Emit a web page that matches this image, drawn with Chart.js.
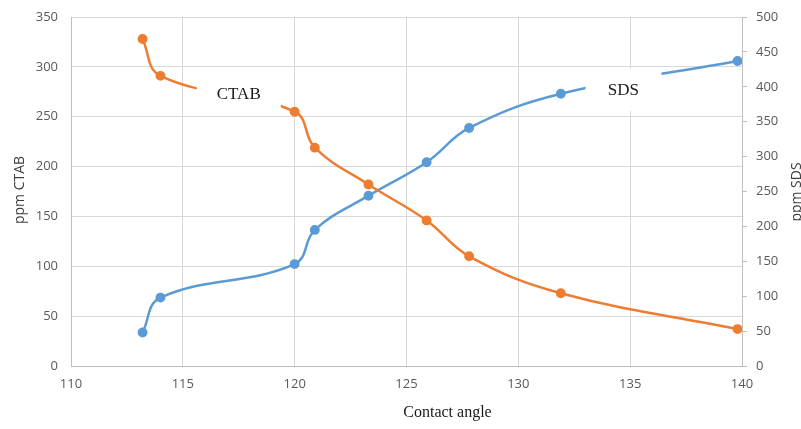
<!DOCTYPE html>
<html>
<head>
<meta charset="utf-8">
<script src="https://cdn.jsdelivr.net/npm/chart.js@4/dist/chart.umd.min.js"></script>
<style>
html,body{margin:0;padding:0;background:#fff;}
#wrap{width:801px;height:429px;position:relative;}
</style>
</head>
<body>
<div id="wrap"><canvas id="c" width="801" height="429"></canvas></div>
<script>
// Data
const contactAngle = [113.2, 114.0, 120.0, 120.9, 123.3, 125.9, 127.8, 131.9, 139.8];
const ctabPpm = [328, 291, 255, 219, 182, 146, 110, 73, 37];
const sdsPpm = [48, 98, 146, 195, 244, 292, 341, 390, 437];
const xTitle = "Contact angle";
const leftTitle = "ppm CTAB";
const rightTitle = "ppm SDS";
const seriesLabels = ["CTAB", "SDS"];
// label anchor positions (data units: x, left-axis y)
const labelAnchors = [[117.5, 273], [134.7, 277]];

const toPts = (ys) => contactAngle.map((x, i) => ({x: x, y: ys[i]}));

const overlay = {
  id: 'overlay',
  afterDatasetsDraw(chart) {
    const ctx = chart.ctx;
    const xs = chart.scales.x, ys = chart.scales.y;
    const boxes = [[42, 22], [38, 21]];
    ctx.save();
    labelAnchors.forEach((a, i) => {
      const cx = xs.getPixelForValue(a[0]);
      const cy = ys.getPixelForValue(a[1]);
      ctx.fillStyle = '#ffffff';
      ctx.fillRect(cx - boxes[i][0], cy - boxes[i][1], boxes[i][0] * 2, boxes[i][1] * 2);
      ctx.fillStyle = '#1a1a1a';
      ctx.font = '17px "Liberation Serif", "Times New Roman", serif';
      ctx.textAlign = 'center';
      ctx.textBaseline = 'middle';
      ctx.fillText(seriesLabels[i], cx, cy + 1);
    });
    ctx.restore();
  },
  afterDraw(chart) {
    const ctx = chart.ctx;
    const ca = chart.chartArea;
    const drawRot = (txt, x, y) => {
      ctx.save();
      ctx.fillStyle = '#404040';
      ctx.font = '14px "Open Sans", sans-serif';
      ctx.textAlign = 'center';
      ctx.textBaseline = 'middle';
      ctx.translate(x, y);
      ctx.rotate(-Math.PI / 2);
      ctx.fillText(txt, 0, 0);
      ctx.restore();
    };
    drawRot(leftTitle, 20, 190);
    drawRot(rightTitle, 797, 192);
    ctx.save();
    ctx.fillStyle = '#1a1a1a';
    ctx.font = '16px "Liberation Serif", "Times New Roman", serif';
    ctx.textAlign = 'center';
    ctx.textBaseline = 'middle';
    ctx.fillText(xTitle, (ca.left + ca.right) / 2 + 41, 413);
    ctx.restore();
  }
};

const tickFont = {family: '"Open Sans", sans-serif', size: 13};
const noVPad = (s) => { s.paddingTop = 0; s.paddingBottom = 0; };

new Chart(document.getElementById('c'), {
  type: 'line',
  data: {
    datasets: [
      {
        label: seriesLabels[0],
        data: toPts(ctabPpm),
        yAxisID: 'y',
        borderColor: '#ED7D31',
        backgroundColor: '#ED7D31',
        borderWidth: 2.5,
        pointRadius: 3.7,
        pointHoverRadius: 3.7,
        tension: 0.4,
        fill: false
      },
      {
        label: seriesLabels[1],
        data: toPts(sdsPpm),
        yAxisID: 'y1',
        borderColor: '#5B9BD5',
        backgroundColor: '#5B9BD5',
        borderWidth: 2.5,
        pointRadius: 3.7,
        pointHoverRadius: 3.7,
        tension: 0.4,
        fill: false
      }
    ]
  },
  options: {
    responsive: false,
    animation: false,
    devicePixelRatio: 1,
    layout: {padding: {top: 17, left: 0, right: 0, bottom: 0}},
    plugins: {legend: {display: false}, tooltip: {enabled: false}},
    scales: {
      x: {
        type: 'linear',
        min: 110, max: 140,
        ticks: {stepSize: 5, color: '#595959', font: tickFont, padding: 10},
        grid: {color: '#d9d9d9', lineWidth: 1, drawTicks: false},
        border: {color: '#bfbfbf', width: 1},
        afterFit(s) { s.height = 63; s.paddingLeft = 0; s.paddingRight = 0; }
      },
      y: {
        position: 'left',
        min: 0, max: 350,
        ticks: {stepSize: 50, color: '#595959', font: tickFont, padding: 13},
        grid: {color: '#d9d9d9', lineWidth: 1, drawTicks: false},
        border: {color: '#bfbfbf', width: 1},
        afterFit(s) { s.width = 71; noVPad(s); }
      },
      y1: {
        position: 'right',
        min: 0, max: 500,
        ticks: {stepSize: 50, color: '#595959', font: tickFont, padding: 9},
        grid: {drawOnChartArea: false, drawTicks: true, tickLength: 5, color: '#bfbfbf'},
        border: {color: '#bfbfbf', width: 1},
        afterFit(s) { s.width = 59; noVPad(s); }
      }
    }
  },
  plugins: [overlay]
});
</script>
</body>
</html>
